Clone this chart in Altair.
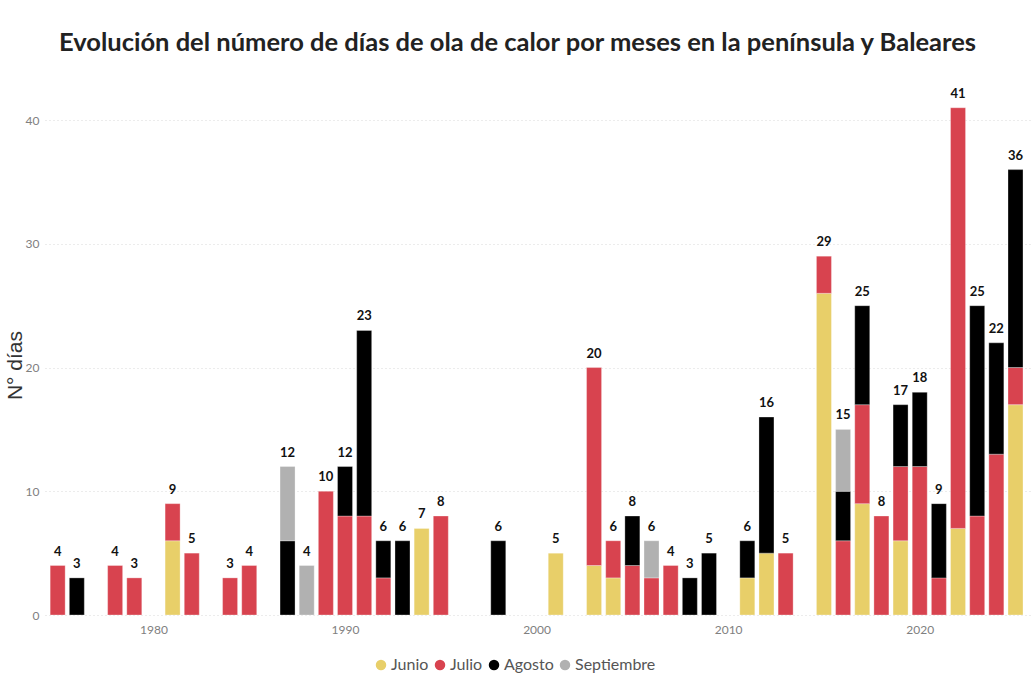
import altair as alt
import pandas as pd

# Years with at least one heat-wave day, and days per month for each year
years = [1975, 1976, 1978, 1979, 1981, 1982, 1984, 1985, 1987, 1988,
         1989, 1990, 1991, 1992, 1993, 1994, 1995, 1998, 2001, 2003,
         2004, 2005, 2006, 2007, 2008, 2009, 2011, 2012, 2013, 2015,
         2016, 2017, 2018, 2019, 2020, 2021, 2022, 2023, 2024, 2025]

junio = [0, 0, 0, 0, 6, 0, 0, 0, 0, 0,
         0, 0, 0, 0, 0, 7, 0, 0, 5, 4,
         3, 0, 0, 0, 0, 0, 3, 5, 0, 26,
         0, 9, 0, 6, 0, 0, 7, 0, 0, 17]

julio = [4, 0, 4, 3, 3, 5, 3, 4, 0, 0,
         10, 8, 8, 3, 0, 0, 8, 0, 0, 16,
         3, 4, 3, 4, 0, 0, 0, 0, 5, 3,
         6, 8, 8, 6, 12, 3, 34, 8, 13, 3]

agosto = [0, 3, 0, 0, 0, 0, 0, 0, 6, 0,
          0, 4, 15, 3, 6, 0, 0, 6, 0, 0,
          0, 4, 0, 0, 3, 5, 3, 11, 0, 0,
          4, 8, 0, 5, 6, 6, 0, 17, 9, 16]

septiembre = [0, 0, 0, 0, 0, 0, 0, 0, 6, 4,
              0, 0, 0, 0, 0, 0, 0, 0, 0, 0,
              0, 0, 3, 0, 0, 0, 0, 0, 0, 0,
              5, 0, 0, 0, 0, 0, 0, 0, 0, 0]

meses = ["Junio", "Julio", "Agosto", "Septiembre"]
colores = ["#E8CF69", "#D8434F", "#000000", "#B1B1B1"]
series = [junio, julio, agosto, septiembre]

rows = []
for idx, (mes, vals) in enumerate(zip(meses, series)):
    for y, v in zip(years, vals):
        if v > 0:
            rows.append({"anio": y, "mes": mes, "orden": idx, "dias": v})
df = pd.DataFrame(rows)

FONT = "Lato"

x_enc = alt.X(
    "anio:Q",
    scale=alt.Scale(domain=[1974.6, 2025.6], nice=False, zero=False),
    axis=alt.Axis(values=[1980, 1990, 2000, 2010, 2020], format="d",
                  title=None, grid=False, domain=False, ticks=False,
                  labelFont=FONT, labelFontSize=12, labelColor="#808080",
                  labelPadding=9),
)

bars = alt.Chart(df).mark_bar(size=15, stroke="white", strokeWidth=0.6,
                              strokeOpacity=0.5).encode(
    x=x_enc,
    y=alt.Y(
        "dias:Q",
        stack="zero",
        scale=alt.Scale(domain=[0, 43], nice=False),
        axis=alt.Axis(values=[0, 10, 20, 30, 40], title="N° días",
                      domain=False, ticks=False, grid=True,
                      gridColor="#D9D9D9", gridDash=[1, 3], gridWidth=1,
                      labelFont=FONT, labelFontSize=12, labelColor="#808080",
                      labelPadding=6,
                      titleFont="Liberation Sans", titleFontSize=21,
                      titleFontWeight="normal", titleColor="#333333",
                      titleX=-30, titleY=282, titleBaseline="middle",
                      titleAngle=270),
    ),
    color=alt.Color(
        "mes:N",
        scale=alt.Scale(domain=meses, range=colores),
        legend=alt.Legend(
            title=None, orient="none", direction="horizontal",
            legendX=328, legendY=574, symbolType="circle", symbolSize=110,
            symbolStrokeWidth=0, labelFont=FONT, labelFontSize=16,
            labelColor="#555555", labelOffset=2, columnPadding=3,
        ),
    ),
    order=alt.Order("orden:Q", sort="ascending"),
)

totals = alt.Chart(df).transform_aggregate(
    total="sum(dias)", groupby=["anio"]
).mark_text(
    font=FONT, fontSize=13, fontWeight="bold", color="#111111",
    baseline="bottom", dy=-7,
).encode(
    x=alt.X("anio:Q"),
    y=alt.Y("total:Q"),
    text=alt.Text("total:Q", format="d"),
)

chart = alt.layer(bars, totals).properties(
    width=987,
    height=532,
    autosize="none",
    padding={"left": 45, "top": 83, "right": 0, "bottom": 83},
    title=alt.TitleParams(
        "Evolución del número de días de ola de calor por meses en la península y Baleares",
        font=FONT, fontSize=25.5, fontWeight="bold", color="#222222",
        anchor="middle", baseline="middle", offset=15, dx=-21,
    ),
).configure_view(stroke=None)

chart.save("out.html", embed_options={"renderer": "svg", "actions": False})
